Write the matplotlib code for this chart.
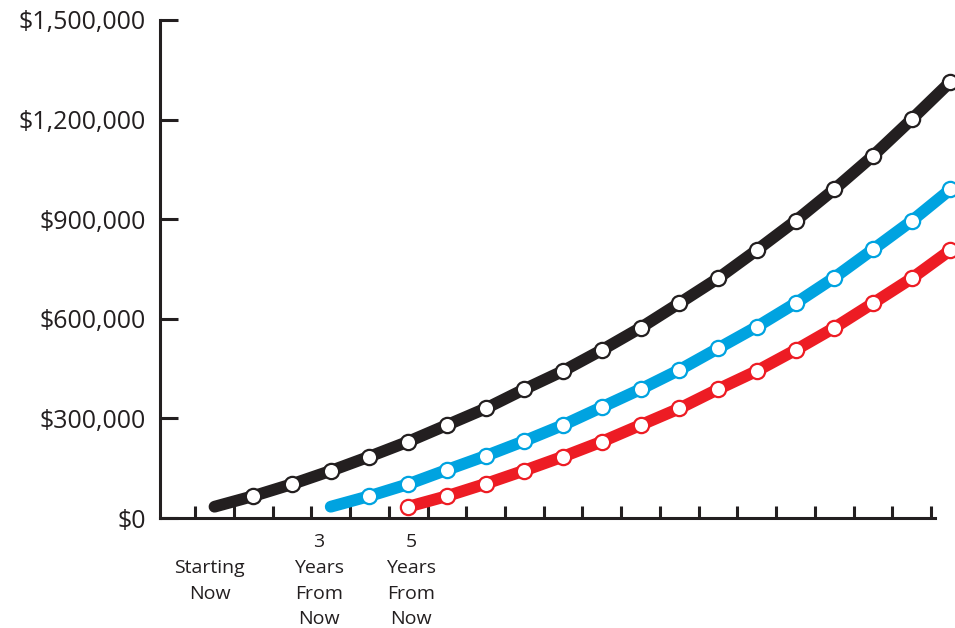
import matplotlib
matplotlib.use("Agg")
import matplotlib.pyplot as plt

plt.rcParams['font.family'] = ['Open Sans', 'DejaVu Sans']

# account balance (dollars) for each plan, one value per year of saving
years_now = list(range(0, 20))
balance_now = [34000, 66000, 102000, 142000, 185000, 230000, 280000, 330000, 388000, 443000,
               506000, 573000, 647000, 722000, 807000, 895000, 990000, 1091000, 1201000, 1314000]

years_3 = list(range(3, 20))
balance_3 = [34000, 66000, 102000, 145000, 187000, 232000, 280000, 334000, 388000, 446000,
             511000, 576000, 647000, 724000, 809000, 895000, 990000]

years_5 = list(range(5, 20))
balance_5 = [34000, 66000, 103000, 143000, 185000, 230000, 280000, 330000, 388000, 443000,
             506000, 573000, 647000, 722000, 807000]

y_ticks = [0, 300000, 600000, 900000, 1200000, 1500000]
y_labels = ['$0', '$300,000', '$600,000', '$900,000', '$1,200,000', '$1,500,000']

period_pos = [-0.12, 2.7, 5.07]
period_lines = [['', 'Starting', 'Now'],
                ['3', 'Years', 'From', 'Now'],
                ['5', 'Years', 'From', 'Now']]

AXIS = '#231f20'

fig = plt.figure(figsize=(9.55, 6.28), dpi=100)
ax = fig.add_axes([160 / 955, 1 - 518 / 628, 775 / 955, 498 / 628])

series = [
    (years_now, balance_now, '#231f20', slice(1, None)),
    (years_3, balance_3, '#00a3e0', slice(1, None)),
    (years_5, balance_5, '#ed1c24', slice(0, None)),
]
for xs, ys, color, every in series:
    ax.plot(xs, ys, color=color, linewidth=8.5, solid_capstyle='round',
            marker='o', markersize=11, markerfacecolor='white',
            markeredgecolor=color, markeredgewidth=1.6, markevery=every,
            clip_on=False, zorder=3)

ax.set_xlim(-1.407, 18.6)
ax.set_ylim(0, 1500000)

ax.set_xticks([k + 0.5 for k in range(-1, 19)])
ax.set_xticklabels([])
ax.tick_params(axis='x', direction='in', length=8.5, width=2.2, color=AXIS)

ax.set_yticks(y_ticks)
ax.set_yticklabels(y_labels)
ax.tick_params(axis='y', direction='in', length=13, width=2.2, color=AXIS,
               labelsize=18, labelcolor=AXIS, pad=10)

for side in ['top', 'right']:
    ax.spines[side].set_visible(False)
for side in ['left', 'bottom']:
    ax.spines[side].set_linewidth(2.2)
    ax.spines[side].set_color(AXIS)

# period labels under the axis, one line at a time
row_y = [542, 568, 594, 619]
for xpos, lines in zip(period_pos, period_lines):
    for row, word in enumerate(lines):
        if not word:
            continue
        ax.text(xpos, (518 - row_y[row]) / 498, word, transform=ax.get_xaxis_transform(),
                ha='center', va='center', fontsize=14, color=AXIS)

fig.savefig('out.png', dpi=100)
